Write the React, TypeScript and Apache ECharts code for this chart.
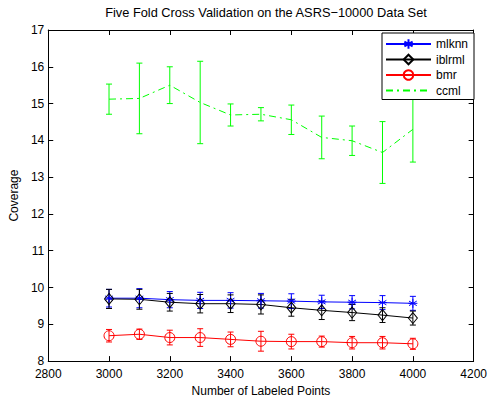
import React, { useEffect, useRef } from "react";
import * as echarts from "echarts";

const labeledPoints = [3000, 3100, 3200, 3300, 3400, 3500, 3600, 3700, 3800, 3900, 4000];

const mlknnMean = [9.71, 9.71, 9.67, 9.65, 9.65, 9.64, 9.63, 9.61, 9.6, 9.59, 9.57];
const mlknnErr = [0.24, 0.26, 0.22, 0.22, 0.21, 0.2, 0.2, 0.18, 0.18, 0.19, 0.19];

const iblrmlMean = [9.69, 9.68, 9.6, 9.56, 9.56, 9.54, 9.45, 9.38, 9.32, 9.25, 9.17];
const iblrmlErr = [0.26, 0.27, 0.24, 0.25, 0.24, 0.26, 0.23, 0.25, 0.22, 0.2, 0.19];

const bmrMean = [8.69, 8.73, 8.64, 8.64, 8.59, 8.54, 8.53, 8.53, 8.5, 8.5, 8.47];
const bmrErr = [0.17, 0.14, 0.2, 0.24, 0.2, 0.27, 0.2, 0.15, 0.17, 0.17, 0.15];

const ccmlMean = [15.12, 15.14, 15.5, 15.03, 14.69, 14.71, 14.56, 14.08, 13.99, 13.67, 14.3];
const ccmlErr = [0.41, 0.96, 0.5, 1.12, 0.3, 0.18, 0.4, 0.58, 0.4, 0.84, 0.89];

const FONT = "'Liberation Sans', Arial, Helvetica, sans-serif";
const ASTERISK = "path://M0,-5L0,5M-4.3,-2.5L4.3,2.5M-4.3,2.5L4.3,-2.5M-5,0L5,0";

function lineSeries(name: string, mean: number[], color: string, symbol: string, symbolSize: any, lineType: any) {
  return {
    name,
    type: "line",
    data: labeledPoints.map((x, i) => [x, mean[i]]),
    symbol: symbol,
    symbolSize,
    showSymbol: symbol !== "none",
    lineStyle: { color, width: 1, type: lineType },
    itemStyle: { color: "rgba(0,0,0,0)", borderColor: color, borderWidth: 1 },
    z: 3,
  };
}

function errSeries(name: string, mean: number[], err: number[], color: string) {
  return {
    name,
    type: "custom",
    data: labeledPoints.map((x, i) => [x, mean[i] - err[i], mean[i] + err[i]]),
    encode: { x: 0, y: [1, 2] },
    z: 2,
    renderItem: (params: any, api: any) => {
      const x = api.value(0);
      const lo = api.coord([x, api.value(1)]);
      const hi = api.coord([x, api.value(2)]);
      const w = 3;
      const style = { stroke: color, lineWidth: 1 };
      return {
        type: "group",
        children: [
          { type: "line", shape: { x1: lo[0], y1: lo[1], x2: hi[0], y2: hi[1] }, style },
          { type: "line", shape: { x1: lo[0] - w, y1: lo[1], x2: lo[0] + w, y2: lo[1] }, style },
          { type: "line", shape: { x1: hi[0] - w, y1: hi[1], x2: hi[0] + w, y2: hi[1] }, style },
        ],
      };
    },
  };
}

export default function App() {
  const ref = useRef<HTMLDivElement>(null);
  useEffect(() => {
    if (!ref.current) return;
    const chart = echarts.init(ref.current, null, { renderer: "svg" });
    const axisLine = { show: true, lineStyle: { color: "#000", width: 1 } };
    const axisTick = { show: true, inside: true, length: 5, lineStyle: { color: "#000" } };
    const axisLabel = { color: "#000", fontSize: 12, fontFamily: FONT };
    chart.setOption({
      animation: false,
      backgroundColor: "#fff",
      title: {
        text: "Five Fold Cross Validation on the ASRS−10000 Data Set",
        left: 261,
        textAlign: "center",
        top: 1,
        textStyle: { fontSize: 12.8, fontWeight: "normal", color: "#000", fontFamily: FONT },
      },
      grid: { left: 47, right: 15, top: 30, bottom: 36 },
      legend: {
        data: [
          "mlknn",
          "iblrml",
          "bmr",
          { name: "ccml", itemStyle: { color: "rgba(0,0,0,0)", borderColor: "rgba(0,0,0,0)", borderWidth: 0 } },
        ],
        orient: "vertical",
        left: 382,
        top: 33,
        padding: [5, 6, 3, 3],
        itemGap: 3.5,
        itemWidth: 45,
        itemHeight: 12,
        backgroundColor: "#fff",
        borderColor: "#000",
        borderWidth: 1,
        textStyle: { fontSize: 12, color: "#000", fontFamily: FONT },
      },
      xAxis: [
        {
          type: "value",
          min: 2800,
          max: 4200,
          interval: 200,
          name: "Number of Labeled Points",
          nameLocation: "middle",
          nameGap: 21,
          nameTextStyle: { fontSize: 12, color: "#000", fontFamily: FONT },
          axisLine,
          axisTick,
          axisLabel: { ...axisLabel, margin: 7, formatter: (v: number) => String(v) },
          splitLine: { show: false },
        },
        {
          type: "value",
          position: "top",
          min: 2800,
          max: 4200,
          interval: 200,
          axisLine,
          axisTick,
          axisLabel: { show: false },
          splitLine: { show: false },
        },
      ],
      yAxis: [
        {
          type: "value",
          min: 8,
          max: 17,
          interval: 1,
          name: "Coverage",
          nameLocation: "middle",
          nameGap: 23,
          nameTextStyle: { fontSize: 12, color: "#000", fontFamily: FONT },
          axisLine,
          axisTick,
          axisLabel: { ...axisLabel, margin: 4 },
          splitLine: { show: false },
        },
        {
          type: "value",
          position: "right",
          min: 8,
          max: 17,
          interval: 1,
          axisLine,
          axisTick,
          axisLabel: { show: false },
          splitLine: { show: false },
        },
      ],
      series: [
        errSeries("mlknn-err", mlknnMean, mlknnErr, "#0000ff"),
        lineSeries("mlknn", mlknnMean, "#0000ff", ASTERISK, 9, "solid"),
        errSeries("iblrml-err", iblrmlMean, iblrmlErr, "#000000"),
        lineSeries("iblrml", iblrmlMean, "#000000", "diamond", [9, 11], "solid"),
        errSeries("bmr-err", bmrMean, bmrErr, "#ff0000"),
        lineSeries("bmr", bmrMean, "#ff0000", "circle", 10, "solid"),
        errSeries("ccml-err", ccmlMean, ccmlErr, "#00ff00"),
        lineSeries("ccml", ccmlMean, "#00ff00", "none", 0, [7, 4, 2, 4]),
      ],
    });
    return () => chart.dispose();
  }, []);
  return (
    <div
      ref={ref}
      style={{ position: "fixed", left: 0, top: 0, width: 490, height: 402, background: "#fff" }}
    />
  );
}
